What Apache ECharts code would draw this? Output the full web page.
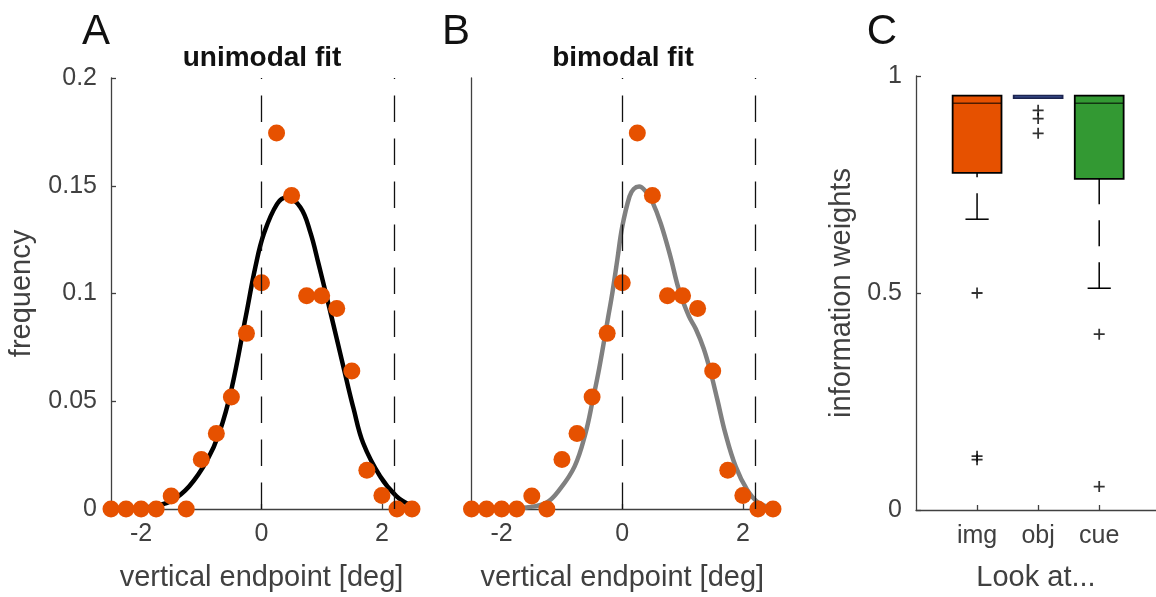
<!DOCTYPE html>
<html>
<head>
<meta charset="utf-8">
<script src="https://cdn.jsdelivr.net/npm/echarts@6/dist/echarts.min.js"></script>
<style>html,body{margin:0;padding:0;background:#fff}#c{width:1156px;height:597px}</style>
</head>
<body>
<div id="c"></div>
<script>
// ---- data ----
const binX = [-2.5,-2.25,-2,-1.75,-1.5,-1.25,-1,-0.75,-0.5,-0.25,0,0.25,0.5,0.75,1,1.25,1.5,1.75,2,2.25,2.5];
const binFreq = [0,0,0,0,0.006,0,0.023,0.035,0.052,0.0815,0.105,0.1745,0.1455,0.099,0.099,0.093,0.064,0.018,0.0063,0,0];

const uniX = [-2.5,-2.0,-1.75,-1.5,-1.2,-0.9,-0.7,-0.5,-0.26,-0.10,0.04,0.26,0.42,0.645,0.81,0.95,1.10,1.25,1.39,1.53,1.69,1.97,2.24,2.46];
const uniY = [0,0.0005,0.0015,0.0037,0.0106,0.0228,0.0355,0.0555,0.0895,0.1125,0.1278,0.1416,0.1445,0.140,0.1285,0.1135,0.0965,0.079,0.0625,0.0465,0.0305,0.0152,0.006,0.002];

const biX = [-2.5,-1.9,-1.59,-1.26,-1.04,-0.79,-0.61,-0.49,-0.38,-0.24,-0.16,-0.08,0.0,0.12,0.19,0.28,0.40,0.50,0.64,0.80,0.94,1.105,1.22,1.35,1.47,1.58,1.71,1.88,2.07,2.26,2.48];
const biY = [0,0.0002,0.0007,0.0029,0.009,0.0198,0.0351,0.0504,0.0656,0.088,0.101,0.116,0.131,0.145,0.1485,0.1496,0.147,0.1425,0.1324,0.117,0.1017,0.0895,0.0835,0.0745,0.063,0.0504,0.0351,0.0198,0.009,0.0029,0.0007];

const boundaries = [0, 2.2];
const xTicks = [-2, 0, 2];

const categories = ['img', 'obj', 'cue'];
// [lower whisker, Q1, median, Q3, upper whisker]
const statsImg = [0.670, 0.777, 0.937, 0.955, 0.955];
const statsObj = [0.949, 0.949, 0.952, 0.955, 0.955];
const statsCue = [0.511, 0.763, 0.937, 0.955, 0.955];
const outImg = [0.50, 0.124, 0.116];
const outObj = [0.921, 0.902, 0.868];
const outCue = [0.405, 0.054];

// ---- build ----
const FONT = 'Liberation Sans';
const TXT = '#404040';
const AXC = '#404040';
const boxColors = ['#E65100', '#4A64AE', '#339933'];
const zip = (a, b) => a.map((v, i) => [v, b[i]]);
const boxData = [statsImg, statsObj, statsCue].map((s, i) => [i + 1].concat(s));
const outData = [];
[outImg, outObj, outCue].forEach((arr, i) => arr.forEach(v => outData.push([i + 1, v])));

function xAxisDist(gi) {
  return {
    gridIndex: gi, type: 'value', min: -2.5, max: 2.5,
    name: 'vertical endpoint [deg]', nameLocation: 'middle', nameGap: 54,
    nameTextStyle: {fontFamily: FONT, fontSize: 29, color: TXT},
    axisLine: {onZero: false, lineStyle: {color: AXC, width: 1.3}},
    axisTick: {inside: true, length: 5, customValues: xTicks, lineStyle: {color: AXC, width: 1.3}},
    axisLabel: {customValues: xTicks, margin: 13, fontFamily: FONT, fontSize: 25, color: TXT},
    splitLine: {show: false}
  };
}
const plus = 'path://M42,0H58V42H100V58H58V100H42V58H0V42H42Z';

const option = {
  animation: false,
  backgroundColor: '#fff',
  grid: [
    {left: 111, top: 78, width: 301, height: 435},
    {left: 471.5, top: 78, width: 301.5, height: 435},
    {left: 916, top: 76, width: 240, height: 441}
  ],
  xAxis: [
    xAxisDist(0),
    xAxisDist(1),
    {
      gridIndex: 2, type: 'value', min: 0, max: 3.93,
      name: 'Look at...', nameLocation: 'middle', nameGap: 53,
      nameTextStyle: {fontFamily: FONT, fontSize: 29, color: TXT},
      axisLine: {onZero: false, lineStyle: {color: AXC, width: 1.3}},
      axisTick: {inside: true, length: 5, customValues: [1, 2, 3], lineStyle: {color: AXC, width: 1.3}},
      axisLabel: {customValues: [1, 2, 3], formatter: v => categories[Math.round(v) - 1], margin: 14, fontFamily: FONT, fontSize: 25, color: TXT},
      splitLine: {show: false}
    }
  ],
  yAxis: [
    {
      gridIndex: 0, type: 'value', min: 0, max: 0.2, interval: 0.05,
      name: 'frequency', nameLocation: 'middle', nameGap: 75,
      nameTextStyle: {fontFamily: FONT, fontSize: 29, color: TXT},
      axisLine: {show: true, onZero: false, lineStyle: {color: AXC, width: 1.3}},
      axisTick: {show: true, inside: true, length: 5, lineStyle: {color: AXC, width: 1.3}},
      axisLabel: {margin: 14, fontFamily: FONT, fontSize: 25, color: TXT},
      splitLine: {show: false}
    },
    {
      gridIndex: 1, type: 'value', min: 0, max: 0.2, interval: 0.05,
      axisLine: {show: true, onZero: false, lineStyle: {color: AXC, width: 1.3}},
      axisTick: {show: false}, axisLabel: {show: false}, splitLine: {show: false}
    },
    {
      gridIndex: 2, type: 'value', min: 0, max: 1, interval: 0.5,
      name: 'information weights', nameLocation: 'middle', nameGap: 60,
      nameTextStyle: {fontFamily: FONT, fontSize: 29, color: TXT},
      axisLine: {show: true, onZero: false, lineStyle: {color: AXC, width: 1.3}},
      axisTick: {show: true, inside: true, length: 5, lineStyle: {color: AXC, width: 1.3}},
      axisLabel: {margin: 14, fontFamily: FONT, fontSize: 25, color: TXT},
      splitLine: {show: false}
    }
  ],
  series: [
    {
      type: 'line', xAxisIndex: 0, yAxisIndex: 0, data: zip(uniX, uniY), smooth: 0.4,
      showSymbol: false, lineStyle: {color: '#000', width: 4.5}, z: 3,
      markLine: {
        silent: true, symbol: ['none', 'none'], label: {show: false},
        lineStyle: {color: '#111', width: 1.3, type: [26.5, 16.5]},
        data: boundaries.map(v => ({xAxis: v}))
      }
    },
    {
      type: 'scatter', xAxisIndex: 0, yAxisIndex: 0, data: zip(binX, binFreq),
      symbolSize: 17, clip: false, itemStyle: {color: '#E65100', opacity: 1}, z: 4
    },
    {
      type: 'line', xAxisIndex: 1, yAxisIndex: 1, data: zip(biX, biY), smooth: 0.4,
      showSymbol: false, lineStyle: {color: '#808080', width: 4.5}, z: 3,
      markLine: {
        silent: true, symbol: ['none', 'none'], label: {show: false},
        lineStyle: {color: '#111', width: 1.3, type: [26.5, 16.5]},
        data: boundaries.map(v => ({xAxis: v}))
      }
    },
    {
      type: 'scatter', xAxisIndex: 1, yAxisIndex: 1, data: zip(binX, binFreq),
      symbolSize: 17, clip: false, itemStyle: {color: '#E65100', opacity: 1}, z: 4
    },
    {
      type: 'custom', xAxisIndex: 2, yAxisIndex: 2, data: boxData,
      renderItem: function (params, api) {
        const x = api.value(0);
        const pMin = api.coord([x, api.value(1)]);
        const pQ1 = api.coord([x, api.value(2)]);
        const pMed = api.coord([x, api.value(3)]);
        const pQ3 = api.coord([x, api.value(4)]);
        const bw = api.size([0.8, 0])[0];
        const cw = api.size([0.38, 0])[0];
        const col = boxColors[params.dataIndex];
        const children = [];
        if (pMin[1] - pQ1[1] > 0.5) {
          children.push({type: 'line', shape: {x1: pMin[0], y1: pMin[1], x2: pQ1[0], y2: pQ1[1]},
            style: {stroke: '#000', lineWidth: 1.5, lineDash: [26, 16]}});
          children.push({type: 'line', shape: {x1: pMin[0] - cw / 2, y1: pMin[1], x2: pMin[0] + cw / 2, y2: pMin[1]},
            style: {stroke: '#000', lineWidth: 1.5}});
        }
        children.push({type: 'rect', shape: {x: pQ1[0] - bw / 2, y: pQ3[1], width: bw, height: Math.max(pQ1[1] - pQ3[1], 2.5)},
          style: {fill: col, stroke: params.dataIndex === 1 ? '#1c2450' : '#000', lineWidth: 1.8}});
        if (params.dataIndex !== 1) {
          children.push({type: 'line', shape: {x1: pMed[0] - bw / 2, y1: pMed[1], x2: pMed[0] + bw / 2, y2: pMed[1]},
            style: {stroke: '#000', lineWidth: 1.5, opacity: 0.65}});
        }
        return {type: 'group', children: children};
      },
      z: 3
    },
    {
      type: 'scatter', xAxisIndex: 2, yAxisIndex: 2, data: outData,
      symbol: plus, symbolSize: 11, itemStyle: {color: '#000'}, z: 4
    }
  ],
  graphic: [
    {type: 'text', x: 96, y: 32, style: {text: 'A', fontFamily: FONT, fontSize: 42, fill: '#111', align: 'center', verticalAlign: 'middle'}},
    {type: 'text', x: 456, y: 32, style: {text: 'B', fontFamily: FONT, fontSize: 42, fill: '#111', align: 'center', verticalAlign: 'middle'}},
    {type: 'text', x: 882, y: 32, style: {text: 'C', fontFamily: FONT, fontSize: 42, fill: '#111', align: 'center', verticalAlign: 'middle'}},
    {type: 'text', x: 262, y: 58, style: {text: 'unimodal fit', fontFamily: FONT, fontSize: 28, fontWeight: 'bold', fill: '#111', align: 'center', verticalAlign: 'middle'}},
    {type: 'text', x: 623, y: 58, style: {text: 'bimodal fit', fontFamily: FONT, fontSize: 28, fontWeight: 'bold', fill: '#111', align: 'center', verticalAlign: 'middle'}}
  ]
};

const chart = echarts.init(document.getElementById('c'), null, {renderer: 'canvas'});
chart.setOption(option);
</script>
</body>
</html>
